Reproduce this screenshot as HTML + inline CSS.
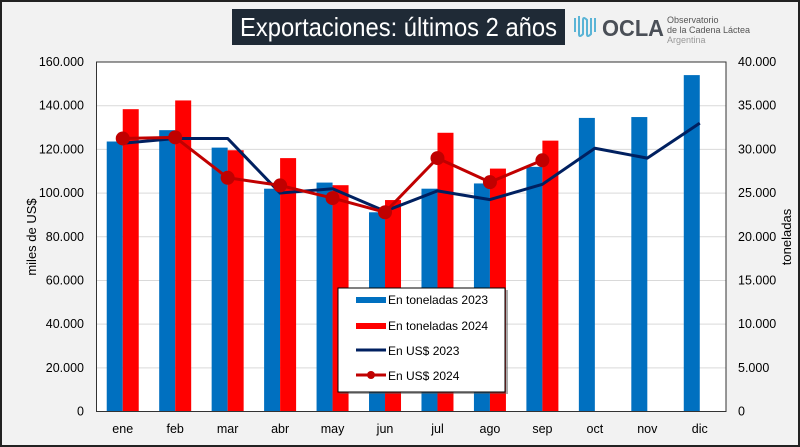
<!DOCTYPE html>
<html><head><meta charset="utf-8"><style>
body{margin:0;background:#fff}
#wrap{position:relative;width:800px;height:447px;box-sizing:border-box;border:2px solid #222;background:#f2f2f2;font-family:"Liberation Sans",sans-serif;overflow:hidden}
</style></head><body>
<div id="wrap">
<svg id="chart" width="796" height="443" viewBox="2 2 796 443" style="position:absolute;left:0;top:0">
<rect x="232" y="9" width="333" height="36" fill="#1f2a36"/>
<text x="240" y="36" textLength="317" lengthAdjust="spacingAndGlyphs" fill="#fff" font-size="26" font-family="Liberation Sans">Exportaciones: últimos 2 años</text>
<g>
<path d="M575 18 v14 M579 16 v18 q0 4 4 0 v-14 q0-4 4 0 v14 q0 4 4 0 v-16 M595 18 v14" stroke="#5ab4d6" stroke-width="2" fill="none"/>
<text x="602" y="36" textLength="62" lengthAdjust="spacingAndGlyphs" fill="#4a4f57" font-size="23" font-weight="bold">OCLA</text>
<text x="667" y="23" fill="#555" font-size="9">Observatorio</text>
<text x="667" y="33" fill="#555" font-size="9">de la Cadena Láctea</text>
<text x="667" y="43" fill="#999" font-size="9">Argentina</text>
</g>
<rect x="96.5" y="62" width="629.5" height="349.5" fill="#fff"/>
<g id="grid"></g><g id="bars"></g><g id="lines"></g>
<rect x="96.5" y="62" width="629.5" height="349.5" fill="none" stroke="#333" stroke-width="1"/>
<g id="axes" font-size="12.5" fill="#000"></g>
<text transform="translate(36,237) rotate(-90)" text-anchor="middle" font-size="13">miles de US$</text>
<text transform="translate(791,237) rotate(-90)" text-anchor="middle" font-size="13">toneladas</text>
<g>
<rect x="340" y="290" width="168" height="104" fill="#555" opacity="0.5"/>
<rect x="338" y="288" width="167" height="104" fill="#fff" stroke="#000" stroke-width="1"/>
<rect x="356" y="297" width="30" height="6" fill="#0070c0"/><text x="388" y="304" font-size="12">En toneladas 2023</text>
<rect x="356" y="323" width="30" height="6" fill="#ff0000"/><text x="388" y="330" font-size="12">En toneladas 2024</text>
<line x1="356" y1="350" x2="386" y2="350" stroke="#002060" stroke-width="3"/><text x="388" y="355" font-size="12">En US$ 2023</text>
<line x1="356" y1="375" x2="386" y2="375" stroke="#c00000" stroke-width="3"/><circle cx="371" cy="375" r="4" fill="#c00000"/><text x="388" y="380" font-size="12">En US$ 2024</text>
</g>
</svg>
</div>
<script>
const categories=["ene","feb","mar","abr","may","jun","jul","ago","sep","oct","nov","dic"];
const tons2023=[30900,32200,30200,25500,26200,22800,25500,26100,28000,33600,33700,38500];
const tons2024=[34600,35600,29900,29000,25900,24200,31900,27800,31000];
const usd2023=[122.8,125,125,100,102,91.7,101,97,104,120.5,116,132];
const usd2024=[125,125.5,107,103.5,97.7,91.2,116,105,115];
const leftTicks=[0,20000,40000,60000,80000,100000,120000,140000,160000];
const rightTicks=[0,5000,10000,15000,20000,25000,30000,35000,40000];
const NS="http://www.w3.org/2000/svg";
const X0=96.5,X1=726,Y0=411.5,Y1=62;
const bw=(X1-X0)/categories.length;
const xc=i=>X0+bw*(i+0.5);
const yL=v=>Y0-(v/160)*(Y0-Y1);
const yR=v=>Y0-(v/40000)*(Y0-Y1);
function mk(tag,attrs,parent){const e=document.createElementNS(NS,tag);for(const k in attrs)e.setAttribute(k,attrs[k]);document.getElementById(parent).appendChild(e);return e;}
leftTicks.forEach((t,i)=>{
  const y=yL(t/1000);
  if(i>0&&i<leftTicks.length-1){const g=mk('line',{x1:X0,x2:X1,y1:y,y2:y,stroke:'#d9d9d9','stroke-width':1},'grid');
  
  }
  const tx=mk('text',{x:84,y:y+4,'text-anchor':'end'},'axes');tx.textContent=t===0?'0':t.toLocaleString('de-DE');
  
  
});
rightTicks.forEach(t=>{
  const tx=mk('text',{x:738,y:yR(t)+4},'axes');tx.textContent=t===0?'0':t.toLocaleString('de-DE');
  
  
});
categories.forEach((c,i)=>{
  const tx=mk('text',{x:xc(i),y:433,'text-anchor':'middle'},'axes');tx.textContent=c;
  
  
});
tons2023.forEach((v,i)=>{const r=mk('rect',{x:xc(i)-16,y:yR(v),width:16,height:Y0-yR(v),fill:'#0070c0'},'bars');
  
  });
tons2024.forEach((v,i)=>{const r=mk('rect',{x:xc(i),y:yR(v),width:16,height:Y0-yR(v),fill:'#ff0000'},'bars');
  
  });
const l1=mk('polyline',{points:usd2023.map((v,i)=>xc(i)+','+yL(v)).join(' '),fill:'none',stroke:'#002060','stroke-width':3,'stroke-linejoin':'round'},'lines');


const l2=mk('polyline',{points:usd2024.map((v,i)=>xc(i)+','+yL(v)).join(' '),fill:'none',stroke:'#c00000','stroke-width':3,'stroke-linejoin':'round'},'lines');


usd2024.forEach((v,i)=>{const p=mk('circle',{cx:xc(i),cy:yL(v),r:7,fill:'#c00000'},'lines');
  
  });
</script>
</body></html>
